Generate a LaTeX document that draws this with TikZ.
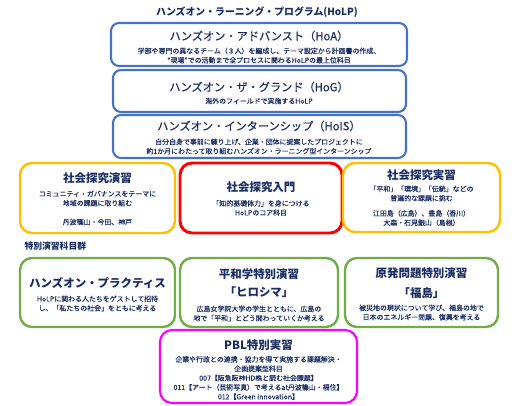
\documentclass[tikz,border=0pt]{standalone}
\usepackage{fontspec}
\setmainfont{Noto Sans CJK JP}
\newfontfamily\bodyfont{Noto Sans CJK JP}[FakeBold=0.12]
\newfontfamily\headfont{Noto Sans CJK JP}[FakeBold=0.3]
\definecolor{navytext}{RGB}{25,45,100}
\definecolor{hoblue}{RGB}{68,114,196}
\definecolor{hoyellow}{RGB}{255,192,0}
\definecolor{hored}{RGB}{255,0,0}
\definecolor{hogreen}{RGB}{112,173,71}
\definecolor{homagenta}{RGB}{255,0,255}

\tikzset{every picture/.style={line width=0.75pt}}
\tikzset{
  maintitle/.style={inner sep=0.75pt, text=navytext, font=\fontsize{7.4}{9}\selectfont\bfseries},
  bluettl/.style={inner sep=0.75pt, text=navytext, font=\fontsize{8.4}{10}\selectfont\headfont},
  boxttl/.style={inner sep=0.75pt, text=navytext, font=\fontsize{8.6}{10}\selectfont\bfseries},
  boxtxt/.style={inner sep=0.75pt, text=navytext, align=center, font=\fontsize{5.2}{7}\selectfont\bodyfont},
  bluebox/.style={draw=hoblue, line width=1.6pt, rounded corners=6pt},
  yellowbox/.style={draw=hoyellow, line width=1.8pt, rounded corners=9pt},
  redbox/.style={draw=hored, line width=2.2pt, rounded corners=9pt},
  greenbox/.style={draw=hogreen, line width=1.8pt, rounded corners=9pt},
  pinkbox/.style={draw=homagenta, line width=1.6pt, rounded corners=9pt}
}

\begin{document}
\begin{tikzpicture}[x=0.75pt,y=0.75pt,yscale=-1,xscale=1]
	\useasboundingbox (0,0) rectangle (520,405);

	% Title
	\draw (257,12) node [maintitle] (holp) {ハンズオン・ラーニング・プログラム(HoLP)};

	%Shape: Rounded Rect [HoA]
	\draw [bluebox] (111,23) rectangle (407,66);
	\draw (259,36) node [bluettl] (hoattl) {ハンズオン・アドバンスト（HoA）};
	\draw (259,55.5) node [boxtxt] (hoatxt) {学部や専門の異なるチーム（３人）を編成し、テーマ設定から計画書の作成、\\“現場”での活動まで全プロセスに関わるHoLPの最上位科目};

	%Shape: Rounded Rect [HoG]
	\draw [bluebox] (113,70) rectangle (406,112);
	\draw (259,87) node [bluettl] (hogttl) {ハンズオン・ザ・グランド（HoG）};
	\draw (259,101) node [boxtxt] (hogtxt) {海外のフィールドで実施するHoLP};

	%Shape: Rounded Rect [HoIS]
	\draw [bluebox] (113,115) rectangle (406,158);
	\draw (259,126) node [bluettl] (hoisttl) {ハンズオン・インターンシップ（HoIS）};
	\draw (259,146.5) node [boxtxt] (hoistxt) {自分自身で事前に練り上げ、企業・団体に提案したプロジェクトに\\約1か月にわたって取り組むハンズオン・ラーニング型インターンシップ};

	%Shape: Rounded Rect [enshu]
	\draw [yellowbox] (20,163) rectangle (175,233);
	\draw (97.5,178) node [boxttl] (enshuttl) {社会探究演習};
	\draw (97.5,198.5) node [boxtxt] (enshutxt) {コミュニティ・ガバナンスをテーマに\\地域の課題に取り組む};
	\draw (97.5,222) node [boxtxt] (enshuplace) {丹波篠山・今田、神戸};

	%Shape: Rounded Rect [nyumon]
	\draw [redbox] (180,163) rectangle (342,233);
	\draw (261,187) node [boxttl] (nyumonttl) {社会探究入門};
	\draw (261,208) node [boxtxt] (nyumontxt) {「知的基礎体力」を身につける\\HoLPのコア科目};

	%Shape: Rounded Rect [jisshu]
	\draw [yellowbox] (343,163) rectangle (500,232);
	\draw (421.5,175) node [boxttl] (jisshuttl) {社会探究実習};
	\draw (421.5,193.5) node [boxtxt] (jisshutxt) {「平和」「環境」「伝統」などの\\普遍的な課題に挑む};
	\draw (421.5,218) node [boxtxt] (jisshuplace) {江田島（広島）、豊島（香川）\\大森・石見銀山（島根）};

	% Text Node
	\draw (23,246) node [anchor=west, inner sep=0.75pt, text=navytext, font=\fontsize{6.6}{8}\selectfont\bfseries] (tokubetsu) {特別演習科目群};

	%Shape: Rounded Rect [practice]
	\draw [greenbox] (20,258) rectangle (175,327);
	\draw (97.5,283) node [boxttl] (practttl) {ハンズオン・プラクティス};
	\draw (97.5,303.5) node [boxtxt] (practtxt) {HoLPに関わる人たちをゲストして招待\\し、「私たちの社会」をともに考える};

	%Shape: Rounded Rect [hiroshima]
	\draw [greenbox] (180,258) rectangle (338,327);
	\draw (259,274) node [boxttl] (heiwattl) {平和学特別演習};
	\draw (259,292) node [boxttl] (hiroshima) {「ヒロシマ」};
	\draw (259,313.5) node [boxtxt] (heiwatxt) {広島女学院大学の学生とともに、広島の\\地で「平和」とどう関わっていくか考える};

	%Shape: Rounded Rect [fukushima]
	\draw [greenbox] (345,258) rectangle (498,327);
	\draw (421.5,273) node [boxttl] (genpatsuttl) {原発問題特別演習};
	\draw (421.5,293) node [boxttl] (fukushima) {「福島」};
	\draw (421.5,312.5) node [boxtxt] (genpatsutxt) {被災地の現状について学び、福島の地で\\日本のエネルギー問題、復興を考える};

	%Shape: Rounded Rect [pbl]
	\draw [pinkbox] (160,330) rectangle (357,403);
	\draw (258.5,345) node [boxttl] (pblttl) {PBL特別実習};
	\draw (258.5,378) node [boxtxt] (pbltxt) {企業や行政との連携・協力を得て実施する課題解決・\\企画提案型科目\\007【阪急阪神HD株と読む社会課題】\\011【アート（芸術写真）で考えるat丹波篠山・福住】\\012【Green innovation】};

\end{tikzpicture}
\end{document}
